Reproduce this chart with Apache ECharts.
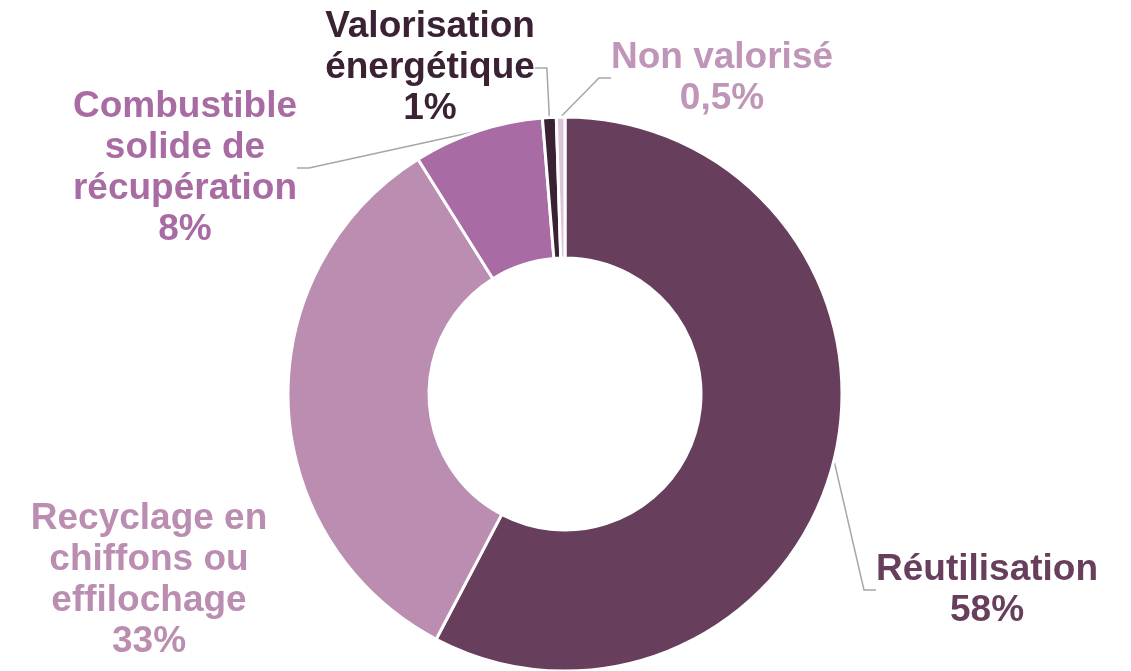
<!DOCTYPE html>
<html>
<head>
<meta charset="utf-8">
<script src="https://cdn.jsdelivr.net/npm/echarts@6/dist/echarts.min.js"></script>
<style>
  html, body { margin: 0; padding: 0; background: #fff; }
  #chart { width: 1131px; height: 671px; }
</style>
</head>
<body>
<div id="chart"></div>
<script>
const categories = [
  'Réutilisation',
  'Recyclage en\nchiffons ou\neffilochage',
  'Combustible\nsolide de\nrécupération',
  'Valorisation\nénergétique',
  'Non valorisé'
]
const values = [57.7, 33.4, 7.6, 0.8, 0.5]
const pctLabels = ['58%', '33%', '8%', '1%', '0,5%']

const sliceColors = ['#673e5c', '#bb8db0', '#a86ba3', '#3a2234', '#dcc4d8']
const textColors = ['#673e5c', '#bb8db0', '#a86ba3', '#3a2234', '#c096b8']
// position (centre) de chaque étiquette en pixels
const labelPos = [[987, 590], [149, 580], [185, 168], [430, 68], [722, 78]]
const showLine = [true, false, true, true, true]

const myChart = echarts.init(document.getElementById('chart'))

myChart.setOption({
  animation: false,
  series: [{
    type: 'pie',
    center: [565, 394],
    radius: [136, 277],
    startAngle: 90,
    clockwise: true,
    avoidLabelOverlap: false,
    itemStyle: { borderColor: '#fff', borderWidth: 3 },
    label: {
      show: true,
      fontFamily: 'Liberation Sans, Arial, sans-serif',
      fontWeight: 'bold',
      fontSize: 37,
      lineHeight: 41,
      align: 'center'
    },
    labelLine: {
      show: true,
      length: 20,
      length2: 12,
      smooth: false,
      lineStyle: { color: '#a6a6a6', width: 1.5 }
    },
    labelLayout: (params) => {
      const p = labelPos[params.dataIndex]
      return { x: p[0], y: p[1], align: 'center', verticalAlign: 'middle' }
    },
    data: categories.map((name, i) => ({
      name,
      value: values[i],
      itemStyle: { color: sliceColors[i] },
      label: {
        color: textColors[i],
        formatter: name + '\n' + pctLabels[i]
      },
      labelLine: { show: showLine[i] }
    }))
  }]
})
</script>
</body>
</html>
